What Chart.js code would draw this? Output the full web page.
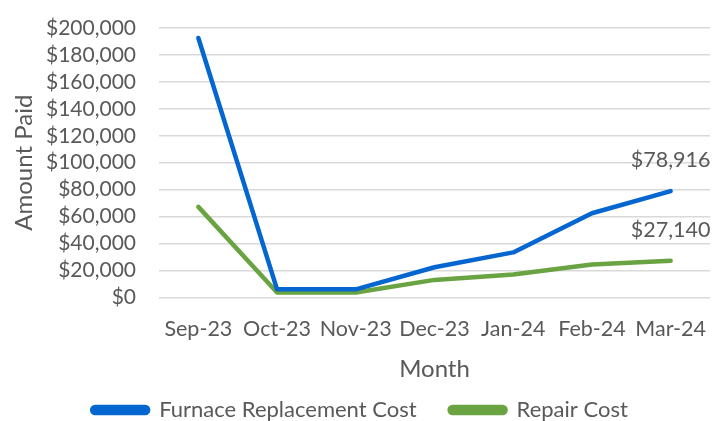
<!DOCTYPE html>
<html>
<head>
<meta charset="utf-8">
<title>Furnace costs</title>
<script src="https://cdn.jsdelivr.net/npm/chart.js@4.4.0/dist/chart.umd.min.js"></script>
<style>
  html, body { margin: 0; padding: 0; background: #fff; }
  #wrap { width: 727px; height: 421px; position: relative; }
</style>
</head>
<body>
<div id="wrap"><canvas id="costChart"></canvas></div>
<script>
const months = ['Sep-23', 'Oct-23', 'Nov-23', 'Dec-23', 'Jan-24', 'Feb-24', 'Mar-24'];
const furnaceReplacement = [192600, 6000, 6000, 22400, 33400, 62500, 78916];
const repairCost = [67200, 3700, 3700, 13000, 17000, 24400, 27140];
const yTicks = [0, 20000, 40000, 60000, 80000, 100000, 120000, 140000, 160000, 180000, 200000];

const FONT = 'Lato, "Open Sans", sans-serif';
const TEXT = '#595959';

const money = v => '$' + Number(v).toLocaleString('en-US');

// labels the last point of each line, just above it
const lastLabel = {
    id: 'lastLabel',
    afterDatasetsDraw(chart) {
        const { ctx } = chart;
        ctx.save();
        ctx.font = '21.5px ' + FONT;
        ctx.fillStyle = TEXT;
        ctx.textAlign = 'center';
        ctx.textBaseline = 'middle';
        chart.data.datasets.forEach((ds, i) => {
            const meta = chart.getDatasetMeta(i);
            const pt = meta.data[meta.data.length - 1];
            ctx.fillText(money(ds.data[ds.data.length - 1]), pt.x, pt.y - 31);
        });
        ctx.restore();
    }
};

const lineStyle = {
    borderWidth: 4.5,
    borderCapStyle: 'round',
    borderJoinStyle: 'round',
    pointRadius: 0,
    tension: 0,
    fill: false
};

new Chart(document.getElementById('costChart'), {
    type: 'line',
    data: {
        labels: months,
        datasets: [{
            label: 'Furnace Replacement Cost',
            data: furnaceReplacement,
            borderColor: '#0566CF',
            backgroundColor: '#0566CF',
            ...lineStyle
        }, {
            label: 'Repair Cost',
            data: repairCost,
            borderColor: '#6AA342',
            backgroundColor: '#6AA342',
            ...lineStyle
        }]
    },
    options: {
        responsive: true,
        maintainAspectRatio: false,
        animation: false,
        layout: { padding: { left: 10, right: 17, top: 28, bottom: 0 } },
        plugins: {
            legend: {
                position: 'bottom',
                maxHeight: 55,
                labels: {
                    boxWidth: 56,
                    boxHeight: 6,
                    useBorderRadius: true,
                    borderRadius: 3,
                    padding: 33,
                    color: TEXT,
                    font: { family: FONT, size: 22 }
                }
            },
            tooltip: { enabled: false }
        },
        scales: {
            x: {
                offset: true,
                grid: { display: false },
                border: { display: false },
                ticks: { color: TEXT, font: { family: FONT, size: 21.5 }, maxRotation: 0, autoSkip: false, padding: 11 },
                title: { display: true, text: 'Month', color: TEXT, font: { family: FONT, size: 24 }, padding: { top: 2, bottom: -18 } }
            },
            y: {
                min: 0,
                max: 200000,
                afterBuildTicks: axis => { axis.ticks = yTicks.map(v => ({ value: v })); },
                afterFit: axis => {
                    axis.width = 149;
                    axis.paddingTop = 0;
                    axis.paddingBottom = 0;
                },
                grid: { color: '#D9D9D9', lineWidth: 1.5, drawTicks: false },
                border: { display: false },
                ticks: { color: TEXT, font: { family: FONT, size: 21 }, autoSkip: false, padding: 23, callback: v => money(v) },
                title: { display: true, text: 'Amount Paid', color: TEXT, font: { family: FONT, size: 24 }, padding: 0 }
            }
        }
    },
    plugins: [lastLabel]
});
</script>
</body>
</html>
